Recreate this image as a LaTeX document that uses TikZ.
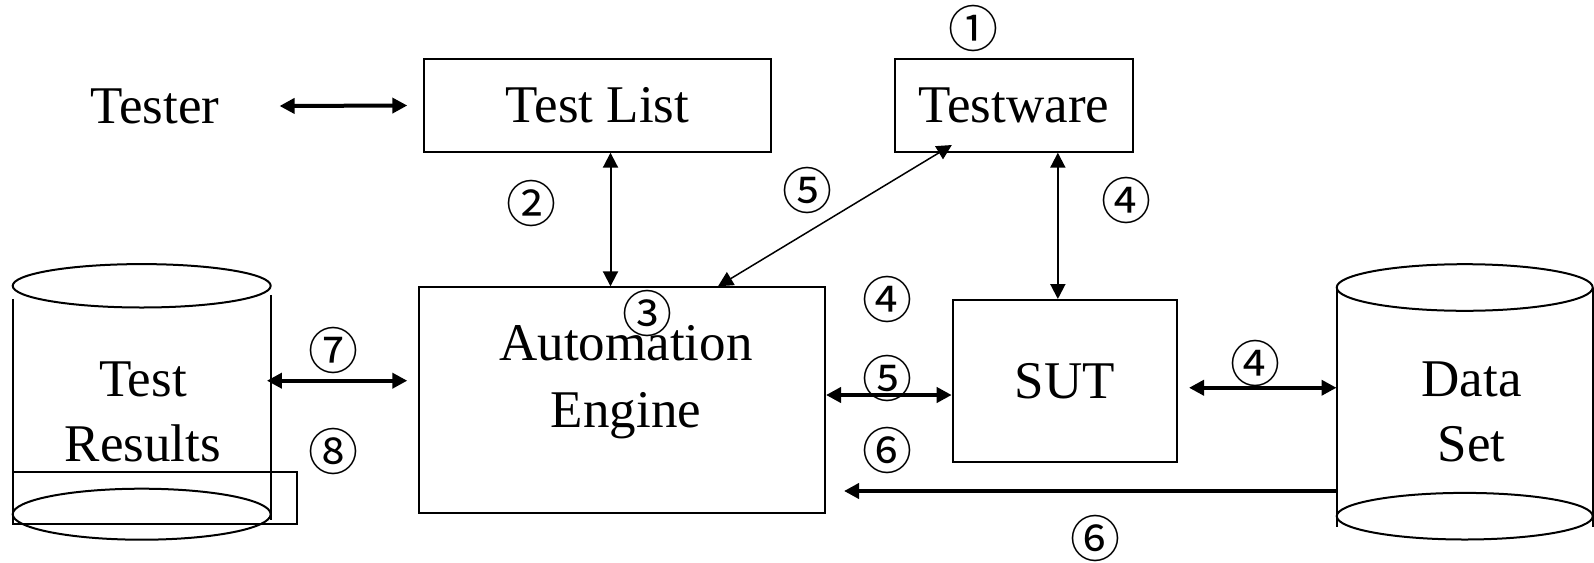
\documentclass[tikz,border=0pt]{standalone}
\usepackage{fontspec}
\setmainfont{Liberation Serif}
\newfontfamily\circfont{Noto Sans CJK JP}
\usetikzlibrary{arrows.meta,calc}

\begin{document}
\begin{tikzpicture}[x=1pt,y=-1pt,
  box/.style={draw, line width=2pt, inner sep=0pt},
  lbl/.style={font=\fontsize{53}{66}\selectfont, inner sep=0pt, align=center},
  num/.style={font=\circfont\fontsize{50}{50}\selectfont, inner sep=0pt},
  tip/.style={Triangle[length=15pt,width=15pt]},
  link/.style={line width=2pt, {Triangle[length=15pt,width=15pt]}-{Triangle[length=15pt,width=15pt]}},
  flow/.style={line width=4pt, {Triangle[length=15pt,width=15pt]}-{Triangle[length=15pt,width=15pt]}},
  inflow/.style={line width=4pt, {Triangle[length=15pt,width=15pt]}-},
  cyl/.style={line width=2pt}
]
\useasboundingbox (0,0) rectangle (1594,562);

% boxes
\node[box, lbl, minimum width=346.4pt, minimum height=92.4pt] (testlist) at (597.5,105.5) {Test List};
\node[box, lbl, minimum width=238.3pt, minimum height=92.4pt] (testware) at (1013.85,105.5) {Testware};
\node[box, lbl, minimum width=224pt, minimum height=161.7pt] (sut) at (1064.7,380.85) {SUT};
\node[box, minimum width=406pt, minimum height=226pt] (ae) at (622,400.3) {};
\node[lbl, font=\fontsize{53}{67.7}\selectfont] (aetext) at (626,382.1) {Automation\\Engine};
\node[lbl] (tester) at (155,106) {Tester};

% Data Set cylinder
\node[inner sep=0pt, minimum width=256pt, minimum height=239.3pt] (ds) at (1464.7,407.35) {};
\draw[cyl] (ds.north) ellipse [x radius=128, y radius=23.3];
\draw[cyl] ($(ds.south)+(0,-11)$) ellipse [x radius=128, y radius=23.3];
\draw[cyl] (ds.north west) -- (ds.south west) (ds.north east) -- (ds.south east);
\node[lbl, font=\fontsize{53}{65}\selectfont] (dstext) at (1471.7,411.7) {Data\\Set};

% Test Results cylinder
\node[inner sep=0pt, minimum width=258pt, minimum height=234pt] (tr) at (141.7,403) {};
\draw[cyl] (tr.north) ellipse [x radius=129, y radius=21.7];
\draw[cyl] ($(tr.south)+(0,-6)$) ellipse [x radius=129, y radius=25.5];
\draw[cyl] ($(tr.north west)+(0,13)$) -- (tr.south west)
           ($(tr.north east)+(0,9)$) -- (tr.south east);
\draw[cyl] ($(tr.south west)+(0,-48.3)$) rectangle ($(tr.south east)+(26,4)$);
\node[lbl, font=\fontsize{53}{64.4}\selectfont] (trtext) at (143,412) {Test\\Results};

% connectors
\draw[flow] ([xshift=60pt]tester.east) -- ([xshift=-16pt]testlist.west);
\draw[link] ([xshift=13pt]testlist.south) -- ([xshift=13pt]testlist.south |- ae.north);
\draw[link, line width=1.5pt] ($(testware.south)+(-62,-7.7)$) -- ($(ae.north)+(96,0)$);
\draw[link] ([xshift=44pt]testware.south) -- ([xshift=44pt]testware.south |- sut.north);

\coordinate (aes) at ($(ae.east)+(0,-5.3)$);
\draw[flow] (aes) -- (aes -| sut.west);

\coordinate (sutr) at ($(sut.east)+(11.3,6.9)$);
\draw[flow] (sutr) -- (sutr -| ds.west);

\coordinate (aein) at ($(ae.east)+(18,90.7)$);
\draw[inflow] (aein) -- (aein -| ds.west);

\coordinate (aeL) at ($(ae.west)+(-10.7,-19.6)$);
\coordinate (trR) at ($(tr.east |- aeL)+(-4,0)$);
\draw[flow] (trR) -- (aeL);

% step numbers
\node[num] (n1)  at (973,28)      {①};
\node[num] (n2)  at (531.7,203.3) {②};
\node[num] (n3)  at (647,313)     {③};
\node[num] (n4a) at (1126.7,200)  {④};
\node[num] (n4b) at (887,299)     {④};
\node[num] (n4c) at (1255,363)    {④};
\node[num] (n5a) at (807,190)     {⑤};
\node[num] (n5b) at (887,378)     {⑤};
\node[num] (n6a) at (887,450)     {⑥};
\node[num] (n6b) at (1095,538.3)  {⑥};
\node[num] (n7)  at (333,350.8)   {⑦};
\node[num] (n8)  at (333,451.7)   {⑧};
\end{tikzpicture}
\end{document}
